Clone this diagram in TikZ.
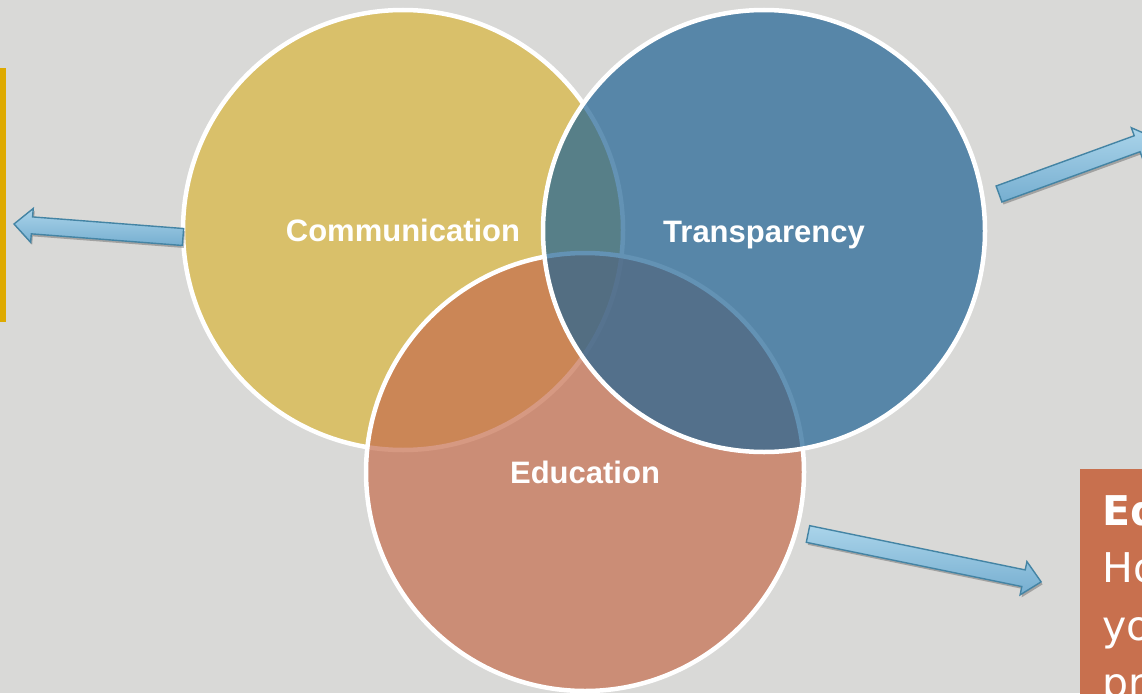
\documentclass[tikz,border=0pt]{standalone}
\usepackage{fontspec}
\setmainfont{Liberation Sans}
\newfontfamily\boxfont{DejaVu Sans}
\usetikzlibrary{shadows}
\definecolor{bgc}{RGB}{217,217,215}
\definecolor{commc}{RGB}{217,192,106}
\definecolor{educ}{RGB}{198,110,78}
\definecolor{transc}{RGB}{33,100,149}
\definecolor{goldbar}{RGB}{222,170,0}
\definecolor{boxc}{RGB}{200,112,78}
\definecolor{arrtop}{RGB}{170,212,234}
\definecolor{arrbot}{RGB}{118,174,208}
\definecolor{arredge}{RGB}{68,132,164}
\newcommand\blockarrow[3]{%
  \begin{scope}[shift={#1}, rotate=#2]
    \path[blockarr] (0,-8.5) -- (#3-18,-8.5) -- (#3-18,-17) -- (#3,0) -- (#3-18,17) -- (#3-18,8.5) -- (0,8.5) -- cycle;
  \end{scope}}
\begin{document}
\begin{tikzpicture}[x=1pt,y=-1pt,
  venn/.style={circle, draw=white, line width=4.5pt, minimum size=440pt, inner sep=0pt,
    fill opacity=0.7},
  vennlbl/.style={inner sep=0pt, text=white, anchor=base,
    font=\bfseries\fontsize{31}{37}\selectfont},
  blockarr/.style={draw=arredge, line width=1.4pt, top color=arrtop, bottom color=arrbot,
    drop shadow={shadow xshift=1.5pt, shadow yshift=-2.5pt, opacity=0.25, fill=black}},
  boxtxt/.style={inner sep=0pt, text=white, font=\boxfont\fontsize{41}{57}\selectfont}]
\useasboundingbox (0,0) rectangle (1142,693);
\clip (0,0) rectangle (1142,693);
\fill[bgc] (0,0) rectangle (1142,693);
% left gold bar
\fill[goldbar] (0,68) rectangle (6,322);
% circles
\node[venn, fill=commc, fill opacity=1] (comm) at (403,230) {};
\node[venn, fill=educ, minimum size=438pt] (edu) at (585,472) {};
\node[venn, fill=transc, minimum size=442pt] (trans) at (764,231) {};
\node[vennlbl] (commlbl) at ([yshift=-11.5pt]comm.center) {Communication};
\node[vennlbl] (translbl) at ([yshift=-11.5pt]trans.center) {Transparency};
\node[vennlbl] (edulbl) at ([yshift=-11pt]edu.center) {Education};
% arrows
\coordinate (ltail) at (183,237);
\coordinate (rtail) at (999,194);
\coordinate (btail) at (808,534);
\blockarrow{(ltail)}{175.6}{169.5}
\blockarrow{(rtail)}{20}{165}
\blockarrow{(btail)}{-11.6}{238}
% bottom right box
\node[fill=boxc, minimum width=80pt, minimum height=240pt, anchor=north west, inner sep=0pt] (box) at (1080,469) {};
\node[boxtxt, anchor=base west] (l1) at (1102,525) {\bfseries Ed};
\node[boxtxt, anchor=base west] (l2) at (1102,582) {Ho};
\node[boxtxt, anchor=base west] (l3) at (1102,640) {yo};
\node[boxtxt, anchor=base west] (l4) at (1102,697) {pr};
\end{tikzpicture}
\end{document}
